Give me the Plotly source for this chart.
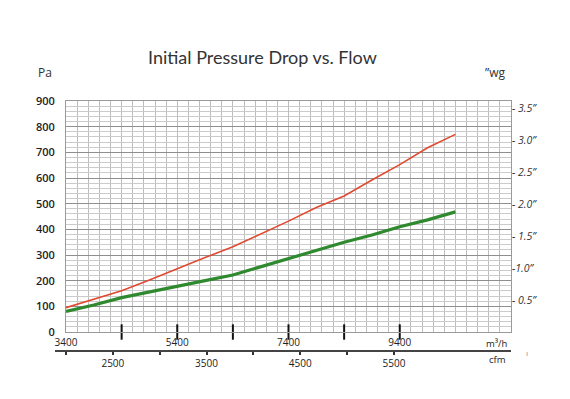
import plotly.graph_objects as go

# ---- data ----
flow_m3h = [3400, 3900, 4400, 4900, 5400, 5900, 6400, 6900, 7400, 7900, 8400, 8900, 9400, 9900, 10400]
red_pa = [95, 127, 161, 203, 248, 290, 332, 381, 432, 485, 530, 592, 652, 718, 770]
green_pa = [80, 105, 134, 157, 179, 200, 222, 254, 285, 318, 350, 378, 410, 437, 468]

x_label_vals = [3400, 5400, 7400, 9400]
x_major_ticks = [4400, 5400, 6400, 7400, 8400, 9400]
cfm_ticks = [2000, 2500, 3000, 3500, 4000, 4500, 5000, 5500]
cfm_labels = ["", "2500", "", "3500", "", "4500", "", "5500"]
pa_ticks = [0, 100, 200, 300, 400, 500, 600, 700, 800, 900]
wg_ticks = [0.5, 1.0, 1.5, 2.0, 2.5, 3.0, 3.5]
wg_labels = ["- 0.5”", "-1.0”", "- 1.5”", "- 2.0”", "- 2.5”", "- 3.0”", "- 3.5”"]
PA_PER_INWG = 249.089

# page body adds an 8px offset; figure is sized so that it fills the 570x399 window
OFF = 8
W, H = 570 - OFF, 399 - OFF
ML, MR, MT, MB = 42, 59, 93, 30
pw = W - ML - MR
ph = H - MT - MB

def fx(px):  # reference-pixel x -> paper fraction
    return (px - OFF - ML) / pw

def fy(py):  # reference-pixel y -> paper fraction
    return (H - MB - (py - OFF)) / ph

fig = go.Figure()
fig.add_trace(go.Scatter(x=flow_m3h, y=red_pa, mode="lines",
                         line=dict(color="#e04a30", width=1.6), showlegend=False, hoverinfo="skip"))
fig.add_trace(go.Scatter(x=flow_m3h, y=green_pa, mode="lines",
                         line=dict(color="#2f8a2f", width=3.2), showlegend=False, hoverinfo="skip"))
# major tick marks on the m3/h axis, crossing the bottom border
fig.add_trace(go.Scatter(x=x_major_ticks, y=[0] * len(x_major_ticks), mode="markers",
                         marker=dict(symbol="line-ns", size=11, line=dict(width=2, color="#111")),
                         cliponaxis=False, showlegend=False, hoverinfo="skip"))
# invisible anchor traces for the right axis and the cfm axis
fig.add_trace(go.Scatter(x=[3400], y=[0], yaxis="y2", mode="markers",
                         marker=dict(opacity=0), showlegend=False, hoverinfo="skip"))
fig.add_trace(go.Scatter(x=[cfm_ticks[0]], y=[0], xaxis="x2", yaxis="y3", mode="markers",
                         marker=dict(opacity=0), showlegend=False, hoverinfo="skip"))

x_dom0 = fx(66)
y_dom0 = fy(332)

fig.update_layout(
    width=W, height=H,
    margin=dict(l=ML, r=MR, t=MT, b=MB),
    paper_bgcolor="white", plot_bgcolor="rgba(0,0,0,0)",
    font=dict(family="Open Sans", color="#222"),
    xaxis=dict(domain=[x_dom0, 1], range=[3400, 11400], tickvals=x_label_vals,
               ticks="", showgrid=True, gridcolor="#bdbdbd", gridwidth=1,
               minor=dict(tick0=3400, dtick=200, showgrid=True, gridcolor="#bdbdbd", gridwidth=1),
               showline=True, linecolor="#9a9a9a", linewidth=1, mirror=True, automargin=False,
               ticklabelstandoff=1,
               zeroline=False, tickfont=dict(size=10, color="#222"), anchor="y"),
    yaxis=dict(domain=[y_dom0, 1], range=[0, 900], tickvals=pa_ticks, ticks="",
               showgrid=True, gridcolor="#8f8f8f", gridwidth=1,
               minor=dict(dtick=20, showgrid=True, gridcolor="#cbcbcb", gridwidth=1),
               showline=True, linecolor="#9a9a9a", linewidth=1, mirror=True, automargin=False,
               ticklabelstandoff=8,
               zeroline=False, tickfont=dict(size=11, color="#222", weight=600), anchor="x"),
    yaxis2=dict(overlaying="y", side="right", range=[0, 900 / PA_PER_INWG],
                tickvals=wg_ticks, ticktext=wg_labels, ticks="", showgrid=False,
                zeroline=False, showline=False, automargin=False,
                tickfont=dict(size=10.5, color="#333", style="italic"), anchor="x"),
    yaxis3=dict(domain=[fy(350), fy(345)], range=[0, 1], visible=False, anchor="x2"),
    xaxis2=dict(domain=[fx(55), 1], range=[2000 - 11 / 93.7 * 1000, 2000 + 445 / 93.7 * 1000],
                anchor="y3", tickvals=cfm_ticks, ticktext=cfm_labels,
                ticks="outside", ticklen=3, tickwidth=2, tickcolor="#333", automargin=False,
                showline=True, linecolor="#444", linewidth=2, showgrid=False,
                zeroline=False, tickfont=dict(size=10, color="#222")),
)

ann = [
    dict(text="Initial Pressure Drop vs. Flow", x=fx(262), y=fy(57),
         font=dict(family="Lato", size=18, color="#333")),
    dict(text="Pa", x=fx(45), y=fy(73), font=dict(size=12, color="#333")),
    dict(text="”wg", x=fx(495), y=fy(73), font=dict(size=12, color="#333")),
    dict(text="m³/h", x=fx(497), y=fy(343), font=dict(size=9.5, color="#222")),
    dict(text="cfm", x=fx(497), y=fy(359), font=dict(size=9.5, color="#222")),
    dict(text="ı", x=fx(527), y=fy(352), font=dict(size=8, color="#888")),
]
for a in ann:
    a.update(xref="paper", yref="paper", showarrow=False, xanchor="center", yanchor="middle")
fig.update_layout(annotations=ann)

fig.write_html("out.html")
